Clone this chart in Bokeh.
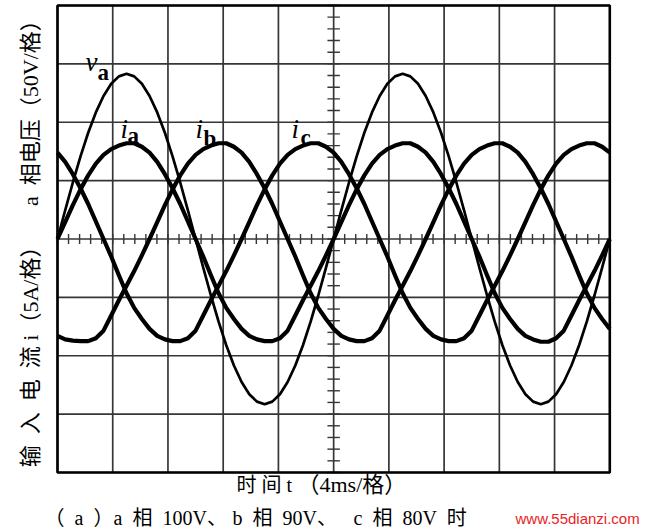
from bokeh.plotting import figure
from bokeh.models import Range1d, Label
from bokeh.embed import file_html
from bokeh.resources import INLINE

# ---------------- data ----------------
# samples every 10 degrees of the 50 Hz cycle (20 ms = 360 deg), 0 .. 40 ms
phase_deg = list(range(0, 721, 10))
time_ms = [d / 18.0 for d in phase_deg]

# a-phase voltage, volts (50 V / div)
va = [0.0, 24.6, 48.4, 70.8, 91.0, 108.4, 122.5, 133.0, 139.3, 141.5, 139.3, 133.0, 122.5, 108.4, 91.0, 70.8, 48.4, 24.6,
      0.0, -24.6, -48.4, -70.8, -91.0, -108.4, -122.5, -133.0, -139.3, -141.5, -139.3, -133.0, -122.5, -108.4, -91.0, -70.8, -48.4, -24.6,
      0.0, 24.6, 48.4, 70.8, 91.0, 108.4, 122.5, 133.0, 139.3, 141.5, 139.3, 133.0, 122.5, 108.4, 91.0, 70.8, 48.4, 24.6,
      0.0, -24.6, -48.4, -70.8, -91.0, -108.4, -122.5, -133.0, -139.3, -141.5, -139.3, -133.0, -122.5, -108.4, -91.0, -70.8, -48.4, -24.6,
      0.0]

# input currents, amperes (5 A / div)
ia = [0.0, 1.45, 2.9, 4.25, 5.45, 6.45, 7.2, 7.7, 8.0, 8.2, 8.2, 7.9, 7.4, 6.6, 5.55, 4.35, 3.0, 1.5,
      0.0, -1.5, -3.1, -4.65, -5.9, -6.85, -7.7, -8.3, -8.6, -8.75, -8.75, -8.5, -7.85, -6.55, -5.25, -4.0, -2.75, -1.4,
      0.0, 1.45, 2.9, 4.25, 5.45, 6.45, 7.2, 7.7, 8.0, 8.2, 8.2, 7.9, 7.4, 6.6, 5.55, 4.35, 3.0, 1.5,
      0.0, -1.5, -3.1, -4.65, -5.9, -6.85, -7.7, -8.3, -8.6, -8.8, -8.8, -8.5, -7.85, -6.55, -5.25, -4.0, -2.75, -1.4,
      0.0]

ib = [-8.3, -8.6, -8.7, -8.75, -8.75, -8.5, -7.85, -6.55, -5.25, -4.0, -2.75, -1.4,
      0.0, 1.45, 2.9, 4.25, 5.45, 6.45, 7.2, 7.7, 8.0, 8.2, 8.2, 7.9, 7.4, 6.6, 5.55, 4.35, 3.0, 1.5,
      0.0, -1.5, -3.1, -4.65, -5.9, -6.85, -7.7, -8.3, -8.6, -8.75, -8.75, -8.5, -7.85, -6.55, -5.25, -4.0, -2.75, -1.4,
      0.0, 1.45, 2.9, 4.25, 5.45, 6.45, 7.2, 7.7, 8.0, 8.2, 8.2, 7.9, 7.4, 6.6, 5.55, 4.35, 3.0, 1.5,
      0.0, -1.5, -3.1, -4.65, -5.9, -6.85, -7.7]

ic = [7.4, 6.6, 5.55, 4.35, 3.0, 1.5,
      0.0, -1.5, -3.1, -4.65, -5.9, -6.85, -7.7, -8.3, -8.6, -8.75, -8.75, -8.5, -7.85, -6.55, -5.25, -4.0, -2.75, -1.4,
      0.0, 1.45, 2.9, 4.25, 5.45, 6.45, 7.2, 7.7, 8.0, 8.2, 8.2, 7.9, 7.4, 6.6, 5.55, 4.35, 3.0, 1.5,
      0.0, -1.5, -3.1, -4.65, -5.9, -6.85, -7.7, -8.3, -8.6, -8.75, -8.75, -8.5, -7.85, -6.55, -5.25, -4.0, -2.75, -1.4,
      0.0, 1.45, 2.9, 4.25, 5.45, 6.45, 7.2, 7.7, 8.0, 8.2, 8.2, 7.9, 7.4]

# oscilloscope screen: 10 x 8 divisions (4 ms/div, 50 V/div, 5 A/div)
screen_t = [0, 40]
screen_v = [-200, 200]
x_div_ticks = [0, 4, 8, 12, 16, 20, 24, 28, 32, 36, 40]
y_div_ticks = [-200, -150, -100, -50, 0, 50, 100, 150, 200]
x_sub_ticks = [k * 0.8 for k in range(51)]
y_sub_ticks = [k * 10 for k in range(-20, 21)]

# texts: (text, x ms, y V, size px, align, angle)
SERIF_CJK = "Liberation Serif, Noto Sans CJK SC"
text_items = [
    ("时 间 t", 12.96, -210.3, "20px", "left", 0.0),            # x-axis title
    ("（4ms/格）", 17.38, -210.3, "22px", "left", 0.0),
    ("a\u2002相电压（50V/格）", -1.955, 112.6, "22px", "center", 1.5708),              # y-axis title (V)
    ("输\u2002入\u2002电\u2002流 i（5A/格）", -1.955, -96.3, "22px", "center", 1.5708),  # y-axis title (A)
    ("（\u2002a\u2002）", -0.94, -239.4, "20px", "left", 0.0),    # caption
    ("a\u2002相\u2002100V、", 4.06, -239.4, "20px", "left", 0.0),
    ("b\u2002相\u200290V、", 12.67, -239.4, "20px", "left", 0.0),
    ("c\u2002相\u200280V\u2002时", 21.44, -239.4, "20px", "left", 0.0),
]
watermark = ("www.55dianzi.com", 33.17, -239.4)

# curve labels: (main letter, subscript, x ms, y V main, x ms sub, y V sub)
curve_labels = [
    ("v", "a", 2.03, 151.2, 2.90, 142.6),
    ("i", "a", 4.56, 94.6, 5.07, 88.7),
    ("i", "b", 10.00, 94.6, 10.57, 86.1),
    ("i", "c", 16.95, 94.6, 17.60, 86.9),
]

p = figure(width=648, height=531, output_backend="svg", toolbar_location=None,
           x_range=Range1d(-4.128, 42.803), y_range=Range1d(-250.54, 204.28),
           x_axis_location=None, y_axis_location=None,
           min_border_left=0, min_border_right=0, min_border_top=0, min_border_bottom=0)
p.extra_y_ranges = {"amp": Range1d(-25.054, 20.428)}
p.background_fill_color = "white"
p.border_fill_color = "white"
p.outline_line_color = None
p.xgrid.visible = False
p.ygrid.visible = False

GRID = "#363636"
n_x = len(x_div_ticks)
n_y = len(y_div_ticks)
p.segment(x0=x_div_ticks, y0=[screen_v[0]] * n_x, x1=x_div_ticks, y1=[screen_v[1]] * n_x,
          line_color=GRID, line_width=1.7)
p.segment(x0=[screen_t[0]] * n_y, y0=y_div_ticks, x1=[screen_t[1]] * n_y, y1=y_div_ticks,
          line_color=GRID, line_width=1.7)

# minor ticks on the centre cross
p.segment(x0=x_sub_ticks, y0=[-4.2] * len(x_sub_ticks), x1=x_sub_ticks, y1=[4.2] * len(x_sub_ticks),
          line_color=GRID, line_width=1.4)
p.segment(x0=[19.55] * len(y_sub_ticks), y0=y_sub_ticks, x1=[20.45] * len(y_sub_ticks), y1=y_sub_ticks,
          line_color=GRID, line_width=1.4)

# waveforms
p.line(time_ms, va, line_color="black", line_width=2.7)
for cur in (ia, ib, ic):
    p.line(time_ms, cur, y_range_name="amp", line_color="black", line_width=4.2, line_join="round")

# screen border
p.quad(left=[screen_t[0]], right=[screen_t[1]], bottom=[screen_v[0]], top=[screen_v[1]],
       fill_color=None, line_color="black", line_width=2.6)

# curve labels
for main, sub, xm, ym, xs, ys in curve_labels:
    p.add_layout(Label(x=xm, y=ym, text=main, text_font="Liberation Serif", text_font_style="italic",
                       text_font_size="27px", text_color="black", text_align="left", text_baseline="alphabetic"))
    p.add_layout(Label(x=xs, y=ys, text=sub, text_font="Liberation Serif", text_font_style="bold",
                       text_font_size="23px", text_color="black", text_align="left", text_baseline="alphabetic"))

# axis titles and caption
for txt, xx, yy, size, align, ang in text_items:
    p.add_layout(Label(x=xx, y=yy, text=txt, text_font=SERIF_CJK, text_font_size=size,
                       text_color="black", text_align=align, text_baseline="middle", angle=ang))

p.add_layout(Label(x=watermark[1], y=watermark[2], text=watermark[0], text_font="Liberation Sans",
                   text_font_size="15px", text_color="#e8231f", text_align="left", text_baseline="middle"))

open("out.html", "w").write(file_html(p, INLINE))
